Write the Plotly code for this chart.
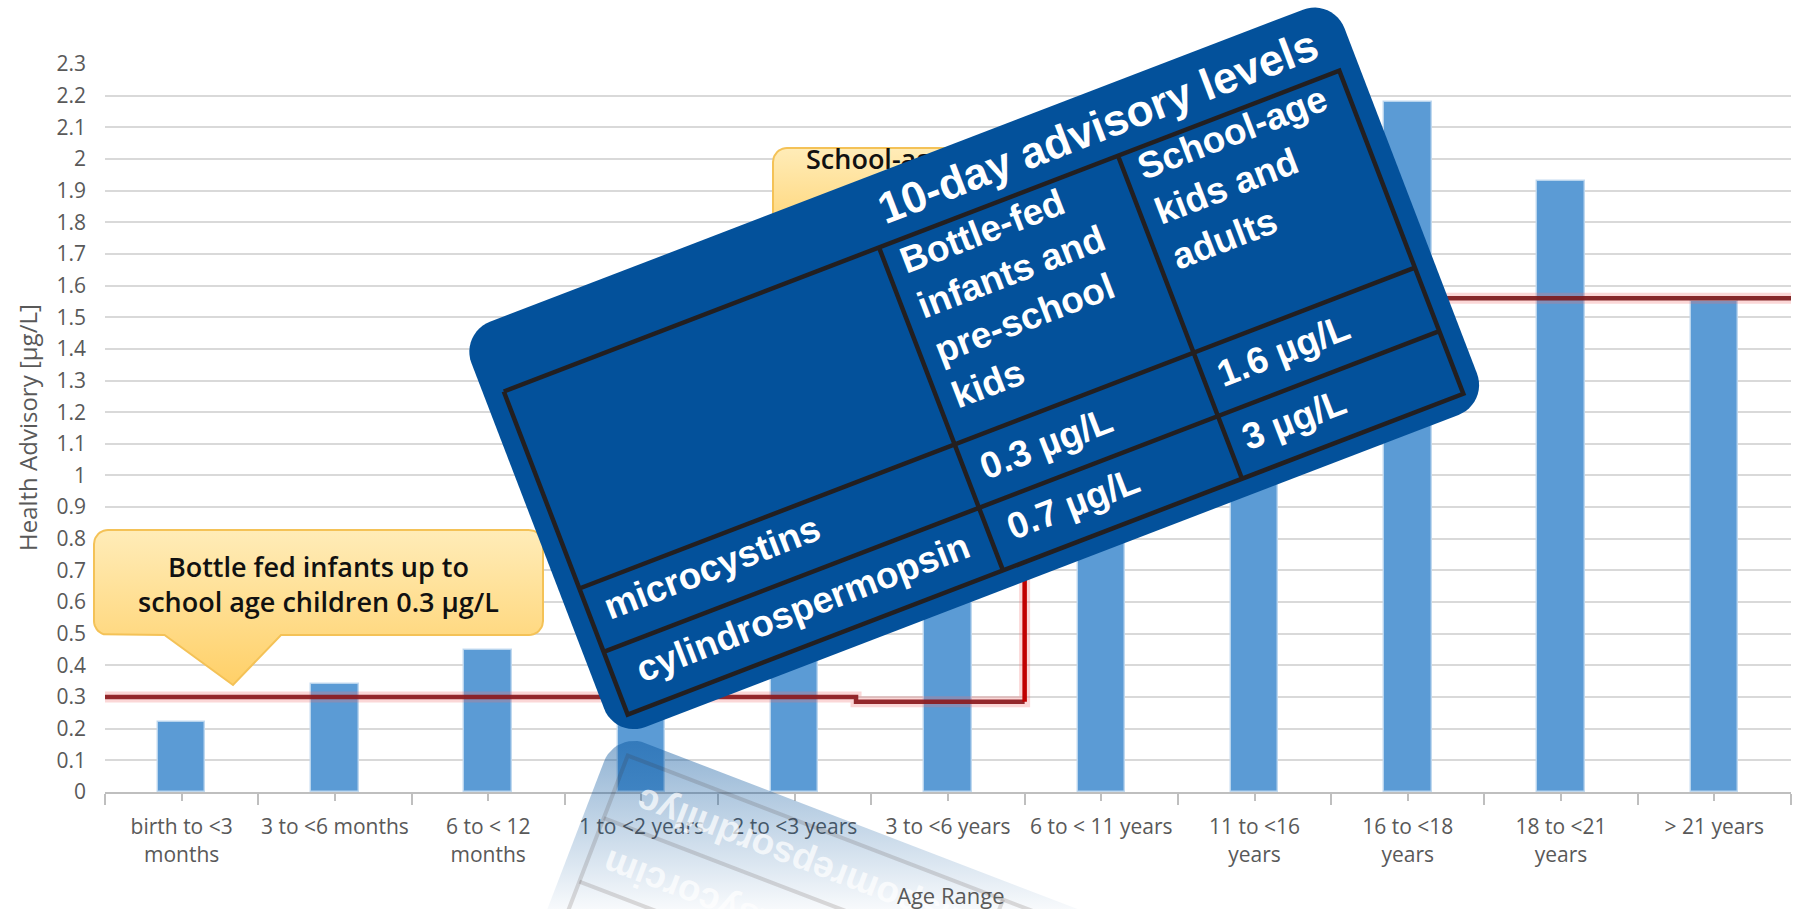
import math
import plotly.graph_objects as go

# ---------------- data ----------------
categories = ["birth to <3<br>months", "3 to <6 months", "6 to < 12<br>months",
              "1 to <2 years", "2 to <3 years", "3 to <6 years", "6 to < 11 years",
              "11 to <16<br>years", "16 to <18<br>years", "18 to <21<br>years", "> 21 years"]
health_advisory = [0.22, 0.34, 0.45, 0.70, 0.80, 1.00, 1.40, 1.90, 2.18, 1.93, 1.55]

y_tick_values = [0, 0.1, 0.2, 0.3, 0.4, 0.5, 0.6, 0.7, 0.8, 0.9, 1.0, 1.1,
                 1.2, 1.3, 1.4, 1.5, 1.6, 1.7, 1.8, 1.9, 2.0, 2.1, 2.2, 2.3]
y_tick_text = ["0", "0.1", "0.2", "0.3", "0.4", "0.5", "0.6", "0.7", "0.8", "0.9", "1", "1.1",
               "1.2", "1.3", "1.4", "1.5", "1.6", "1.7", "1.8", "1.9", "2", "2.1", "2.2", "2.3"]

# advisory level step line (category index, µg/L)
threshold_x = [-0.6, 4.4, 4.4, 5.5, 5.5, 10.7]
threshold_y = [0.30, 0.30, 0.285, 0.285, 1.56, 1.56]

callout_young = "Bottle fed infants up to<br>school age children 0.3 µg/L"
callout_older = "School-age children and adults 1.6 µg/L"

card_title = "10-day advisory levels"
card_col_young = "Bottle-fed<br>infants and<br>pre-school<br>kids"
card_col_older = "School-age<br>kids and<br>adults"
toxins = ["microcystins", "cylindrospermopsin"]
levels_young = ["0.3 µg/L", "0.7 µg/L"]
levels_older = ["1.6 µg/L", "3 µg/L"]

# ---------------- page geometry ----------------
W, H = 1817, 909
PX0, PX1 = 105, 1791          # plot area, pixels
PY_TOP, PY_BOT = 64, 792

AXIS_GREY = "#595959"
TICK_FONT = dict(family="Open Sans", size=21, color=AXIS_GREY)

fig = go.Figure()

xs = list(range(len(categories)))
fig.add_trace(go.Bar(
    x=xs, y=health_advisory, width=0.31,
    marker=dict(color="#5B9BD5", line=dict(color="rgba(190,215,238,0.9)", width=1.5)),
    hoverinfo="skip", showlegend=False))

# red advisory line: soft halo then core segments
fig.add_trace(go.Scatter(x=threshold_x, y=threshold_y, mode="lines",
                         line=dict(color="rgba(240,110,110,0.28)", width=11),
                         hoverinfo="skip", showlegend=False))
fig.add_trace(go.Scatter(x=threshold_x[:4], y=threshold_y[:4], mode="lines",
                         line=dict(color="#8C1A1E", width=4.5), opacity=0.92,
                         hoverinfo="skip", showlegend=False))
fig.add_trace(go.Scatter(x=threshold_x[3:5], y=threshold_y[3:5], mode="lines",
                         line=dict(color="#C00000", width=4.5),
                         hoverinfo="skip", showlegend=False))
fig.add_trace(go.Scatter(x=threshold_x[4:], y=threshold_y[4:], mode="lines",
                         line=dict(color="#7D1A1C", width=4.5), opacity=0.92,
                         hoverinfo="skip", showlegend=False))


# ---------------- overlay helpers (pixel space on x2/y2) ----------------
def rounded_rect(u0, v0, u1, v1, r, n=10, bottom_insert=None):
    pts = []
    corners = [(u1 - r, v0 + r, -90, 0), (u1 - r, v1 - r, 0, 90),
               (u0 + r, v1 - r, 90, 180), (u0 + r, v0 + r, 180, 270)]
    for i, (cu, cv, a0, a1) in enumerate(corners):
        for k in range(n + 1):
            a = math.radians(a0 + (a1 - a0) * k / n)
            pts.append((cu + r * math.cos(a), cv + r * math.sin(a)))
        if i == 1 and bottom_insert:
            pts.extend(bottom_insert)
    return pts


ANG = math.radians(21)
CA, SA = math.cos(ANG), math.sin(ANG)


def to_px(u, v):
    return (u * CA + v * SA, -u * SA + v * CA)


def path_of(points, close=True):
    s = "M " + " L ".join(f"{x:.1f},{y:.1f}" for x, y in points)
    return s + (" Z" if close else "")


# callout boxes (drawn under the card)
YELLOW_SCALE = [[0, "#FFECB8"], [1, "#FFD068"]]
box1 = rounded_rect(94, 530, 543, 635, 14,
                    bottom_insert=[(281, 635), (233, 685), (164.5, 635)])
fig.add_trace(go.Scatter(
    x=[p[0] for p in box1] + [box1[0][0]], y=[p[1] for p in box1] + [box1[0][1]],
    xaxis="x2", yaxis="y2", mode="lines", fill="toself",
    fillgradient=dict(type="vertical", colorscale=YELLOW_SCALE, start=530, stop=685),
    line=dict(color="#F4C257", width=2), hoverinfo="skip", showlegend=False))

box2 = rounded_rect(773, 148, 1120, 252, 14)
fig.add_trace(go.Scatter(
    x=[p[0] for p in box2] + [box2[0][0]], y=[p[1] for p in box2] + [box2[0][1]],
    xaxis="x2", yaxis="y2", mode="lines", fill="toself",
    fillgradient=dict(type="vertical", colorscale=YELLOW_SCALE, start=148, stop=252),
    line=dict(color="#F4C257", width=2), hoverinfo="skip", showlegend=False))
fig.add_trace(go.Scatter(
    x=[806], y=[162], xaxis="x2", yaxis="y2", mode="text", text=[callout_older],
    textposition="middle right",
    textfont=dict(family="Open Sans", size=27, color="#111111", weight=600),
    hoverinfo="skip", showlegend=False))

# card geometry in its own rotated frame (u along the top edge, v downward)
CARD = (310, 476, 1245, 910)
TABLE = (330, 546, 1225, 892)
COL_DIV = [732, 988]
ROW_DIV = [757, 825]

card_local = rounded_rect(*CARD, 32, n=12)
card_px = [to_px(u, v) for u, v in card_local]

table_segments = [
    [(TABLE[0], TABLE[1]), (TABLE[2], TABLE[1]), (TABLE[2], TABLE[3]),
     (TABLE[0], TABLE[3]), (TABLE[0], TABLE[1])]]
for cu in COL_DIV:
    table_segments.append([(cu, TABLE[1]), (cu, TABLE[3])])
for rv in ROW_DIV:
    table_segments.append([(TABLE[0], rv), (TABLE[2], rv)])
table_px = [[to_px(u, v) for u, v in seg] for seg in table_segments]

# reflection below the card: mirrored about a horizontal line, fading out
YM = 735
refl = [(x, 2 * YM - y) for x, y in card_px]
fig.add_trace(go.Scatter(
    x=[p[0] for p in refl] + [refl[0][0]], y=[p[1] for p in refl] + [refl[0][1]],
    xaxis="x2", yaxis="y2", mode="lines", fill="toself",
    fillgradient=dict(type="vertical",
                      colorscale=[[0, "rgba(3,81,155,0.46)"], [1, "rgba(3,81,155,0.03)"]],
                      start=YM, stop=H),
    line=dict(width=0), hoverinfo="skip", showlegend=False))
rx, ry = [], []
for seg in table_px:
    for x, y in seg:
        rx.append(x)
        ry.append(2 * YM - y)
    rx.append(None)
    ry.append(None)
fig.add_trace(go.Scatter(x=rx, y=ry, xaxis="x2", yaxis="y2", mode="lines",
                         line=dict(color="rgba(60,45,40,0.16)", width=4),
                         hoverinfo="skip", showlegend=False))

shapes = [
    dict(type="path", path=path_of(card_px), xref="x2", yref="y2",
         fillcolor="#03519B", line=dict(width=0), layer="above"),
    dict(type="path", path=" ".join(path_of(seg, close=False) for seg in table_px),
         xref="x2", yref="y2", line=dict(color="#231F20", width=4.5), layer="above"),
]

CARD_FONT = "Liberation Sans, Arial, sans-serif"
annotations = []


def card_text(text, u, v, size, align="left", weight="bold"):
    x, y = to_px(u, v)
    annotations.append(dict(
        text=text, x=x, y=y, xref="x2", yref="y2", showarrow=False,
        xanchor="center", yanchor="middle", align=align, textangle=-21,
        font=dict(family=CARD_FONT, size=size, color="white", weight=weight)))
    return x, y


card_text(card_title, 979, 511, 44, align="center")
card_text(card_col_young, 846, 640, 37)
card_text(card_col_older, 1103, 614, 37)
tox_centers = [card_text(toxins[0], 461, 785, 37), card_text(toxins[1], 532, 855, 37)]
card_text(levels_young[0], 818, 789, 37)
card_text(levels_young[1], 822, 855, 37)
card_text(levels_older[0], 1073, 787, 37)
card_text(levels_older[1], 1058, 855, 37)

# mirrored toxin names inside the reflection
for name, (cx, cy) in zip(toxins, tox_centers):
    annotations.append(dict(
        text=name[::-1], x=cx, y=2 * YM - cy, xref="x2", yref="y2", showarrow=False,
        xanchor="center", yanchor="middle", textangle=-159, opacity=0.7,
        font=dict(family=CARD_FONT, size=37, color="white", weight="bold")))

# callout text
annotations.append(dict(
    text=callout_young, x=318, y=584, xref="x2", yref="y2", showarrow=False,
    xanchor="center", yanchor="middle", align="center",
    font=dict(family="Open Sans", size=27, color="#111111", weight=600)))

# axis titles
annotations.append(dict(
    text="Health Advisory [µg/L]", x=27, y=(PY_TOP + PY_BOT) / 2, xref="x2", yref="y2",
    showarrow=False, textangle=-90, xanchor="center", yanchor="middle",
    font=dict(family="Open Sans", size=24, color=AXIS_GREY)))
annotations.append(dict(
    text="Age Range", x=951, y=895, xref="x2", yref="y2", showarrow=False,
    xanchor="center", yanchor="middle",
    font=dict(family="Open Sans", size=22, color=AXIS_GREY)))

fig.update_layout(
    width=W, height=H,
    margin=dict(l=0, r=0, t=0, b=0),
    paper_bgcolor="white", plot_bgcolor="rgba(0,0,0,0)",
    showlegend=False, bargap=0,
    xaxis=dict(
        domain=[PX0 / W, PX1 / W], range=[-0.5, 10.5],
        tickmode="array", tickvals=xs, ticktext=categories,
        tickfont=TICK_FONT, ticks="outside", ticklen=7, tickcolor="#BFBFBF",
        tickwidth=1.5, ticklabelstandoff=8,
        minor=dict(tickmode="linear", tick0=-0.5, dtick=1, ticks="outside",
                   ticklen=11, tickcolor="#BFBFBF", tickwidth=1.5, showgrid=False),
        showline=True, linecolor="#BFBFBF", linewidth=2,
        showgrid=False, zeroline=False, automargin=False, fixedrange=True),
    yaxis=dict(
        domain=[1 - PY_BOT / H, 1 - PY_TOP / H], range=[0, 2.3],
        tickmode="array", tickvals=y_tick_values, ticktext=y_tick_text,
        tickfont=TICK_FONT, ticks="", ticklabelstandoff=18,
        showgrid=True, gridcolor="#D9D9D9", gridwidth=2,
        zeroline=False, showline=False, automargin=False, fixedrange=True),
    xaxis2=dict(domain=[0, 1], range=[0, W], anchor="y2", visible=False, fixedrange=True),
    yaxis2=dict(domain=[0, 1], range=[H, 0], anchor="x2", visible=False, fixedrange=True),
    shapes=shapes,
    annotations=annotations,
)

fig.write_html("out.html")
